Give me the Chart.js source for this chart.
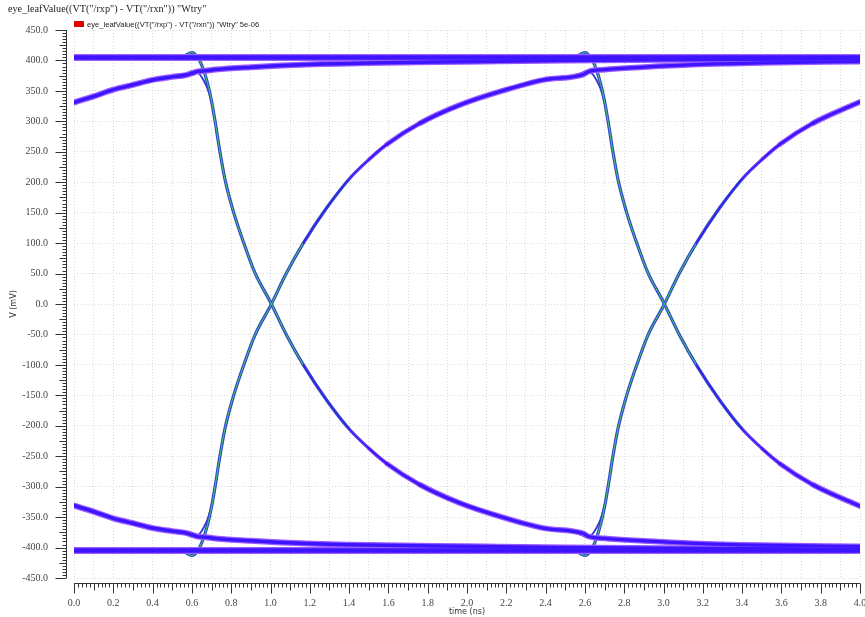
<!DOCTYPE html>
<html><head><meta charset="utf-8">
<script src="https://cdn.jsdelivr.net/npm/chart.js@4.4.0/dist/chart.umd.min.js"></script>
<style>html,body{margin:0;padding:0;background:#fff}canvas{display:block}</style>
</head><body>
<canvas id="c" width="865" height="617"></canvas>
<script>
const titleText = 'eye_leafValue((VT("/rxp") - VT("/rxn")) "Wtry"';
const legendText = 'eye_leafValue((VT("/rxp") - VT("/rxn")) "Wtry" 5e-06';
const xMin = 0, xMax = 4, xStep = 0.1;
const yMin = -450, yMax = 450, yStep = 50;

// steady levels
const hiFlatT = [0, 4];
const hiFlatV = [405, 405];
const loFlatT = [0, 4];
const loFlatV = [-405, -405];

// settling tails that start before the window
const hiTailT = [0, 0.1, 0.2, 0.3, 0.4, 0.5, 0.57, 0.6, 0.63, 0.67, 0.72, 0.9, 1.15, 1.5, 2.0, 2.5, 3.0, 3.5, 4.0];
const hiTailV = [331, 341, 352, 360, 368, 373, 376, 379, 382, 383, 385, 389, 393, 396, 398, 400, 401, 402, 403];
const loTailT = [0, 0.1, 0.2, 0.3, 0.4, 0.5, 0.57, 0.6, 0.63, 0.67, 0.72, 0.9, 1.15, 1.5, 2.0, 2.5, 3.0, 3.5, 4.0];
const loTailV = [-331, -341, -352, -360, -368, -373, -376, -379, -382, -383, -385, -389, -393, -396, -398, -400, -401, -402, -403];

// first transition (0.6 ns)
const fall1EdgeT = [0.50, 0.56, 0.60, 0.63, 0.655, 0.68, 0.70, 0.718, 0.74, 0.768, 0.81, 0.862, 0.921, 1.0, 1.08, 1.167, 1.286, 1.405, 1.50, 1.591];
const fall1EdgeV = [405, 407, 413, 405, 388, 362, 333, 300, 255, 205, 153, 102, 51, 3, -50, -100, -158, -207, -237, -262];
const fall1TailT = [1.167, 1.286, 1.405, 1.50, 1.591, 1.761, 1.964, 2.168, 2.388, 2.592, 2.62, 2.7, 2.9, 3.15, 3.5, 4.0];
const fall1TailV = [-100, -158, -207, -237, -262, -297, -327, -349, -368, -377, -382, -385, -389, -393, -396, -398];
const fall1bT = [0.50, 0.58, 0.61, 0.64, 0.66, 0.68, 0.70, 0.72];
const fall1bV = [373, 379, 383, 377, 367, 353, 331, 298];

const rise1EdgeT = [0.50, 0.56, 0.60, 0.63, 0.655, 0.68, 0.70, 0.718, 0.74, 0.768, 0.81, 0.862, 0.921, 1.0, 1.08, 1.167, 1.286, 1.405, 1.50, 1.591];
const rise1EdgeV = [-405, -407, -413, -405, -388, -362, -333, -300, -255, -205, -153, -102, -51, -3, 50, 100, 158, 207, 237, 262];
const rise1TailT = [1.167, 1.286, 1.405, 1.50, 1.591, 1.761, 1.964, 2.168, 2.388, 2.592, 2.62, 2.7, 2.9, 3.15, 3.5, 4.0];
const rise1TailV = [100, 158, 207, 237, 262, 297, 327, 349, 368, 377, 382, 385, 389, 393, 396, 398];
const rise1bT = [0.50, 0.58, 0.61, 0.64, 0.66, 0.68, 0.70, 0.72];
const rise1bV = [-373, -379, -383, -377, -367, -353, -331, -298];

// second transition (2.6 ns)
const fall2EdgeT = [2.50, 2.56, 2.60, 2.63, 2.655, 2.68, 2.70, 2.718, 2.74, 2.768, 2.81, 2.862, 2.921, 3.0, 3.08, 3.167, 3.286, 3.405, 3.50, 3.591];
const fall2EdgeV = [405, 407, 413, 405, 388, 362, 333, 300, 255, 205, 153, 102, 51, 3, -50, -100, -158, -207, -237, -262];
const fall2TailT = [3.167, 3.286, 3.405, 3.50, 3.591, 3.761, 3.964, 4.0];
const fall2TailV = [-100, -158, -207, -237, -262, -297, -327, -332];
const fall2bT = [2.50, 2.58, 2.61, 2.64, 2.66, 2.68, 2.70, 2.72];
const fall2bV = [373, 379, 383, 377, 367, 353, 331, 298];

const rise2EdgeT = [2.50, 2.56, 2.60, 2.63, 2.655, 2.68, 2.70, 2.718, 2.74, 2.768, 2.81, 2.862, 2.921, 3.0, 3.08, 3.167, 3.286, 3.405, 3.50, 3.591];
const rise2EdgeV = [-405, -407, -413, -405, -388, -362, -333, -300, -255, -205, -153, -102, -51, -3, 50, 100, 158, 207, 237, 262];
const rise2TailT = [3.167, 3.286, 3.405, 3.50, 3.591, 3.761, 3.964, 4.0];
const rise2TailV = [100, 158, 207, 237, 262, 297, 327, 332];
const rise2bT = [2.50, 2.58, 2.61, 2.64, 2.66, 2.68, 2.70, 2.72];
const rise2bV = [-373, -379, -383, -377, -367, -353, -331, -298];

const pts = (ts, vs) => ts.map((t, i) => ({x: t, y: vs[i]}));

const bandColorOuter = '#9a5cff';
const bandColorCore = '#3d14ff';
const edgeColorOuter = '#3048c8';
const edgeColorInner = '#44c870';

const datasets = [];
function rampWidth(start, w, minFrac) {
  return (c) => {
    const x0 = c.p0.parsed.x;
    const f = Math.max(minFrac, Math.min(1, (x0 - start) / 0.5));
    return w * f;
  };
}
function band(ts, vs, w, ramp) {
  const common = {showLine: true, pointRadius: 0, cubicInterpolationMode: 'monotone', borderCapStyle: 'round'};
  const o = Object.assign({}, common, {data: pts(ts, vs), borderColor: bandColorOuter, borderWidth: w + 2.5, order: 2});
  const c = Object.assign({}, common, {data: pts(ts, vs), borderColor: bandColorCore, borderWidth: w, order: 1});
  if (ramp) {
    o.segment = {borderWidth: rampWidth(ts[0], w + 2.5, 0.3), borderColor: (s) => s.p0.parsed.x - ts[0] < 0.15 ? edgeColorOuter : bandColorOuter};
    c.segment = {borderWidth: rampWidth(ts[0], w, 0.35)};
  }
  datasets.push(o, c);
}
function edge(ts, vs) {
  datasets.push({data: pts(ts, vs), showLine: true, borderColor: edgeColorOuter, borderWidth: 3.2, pointRadius: 0, cubicInterpolationMode: 'monotone', order: 4});
  datasets.push({data: pts(ts, vs), showLine: true, borderColor: edgeColorInner, borderWidth: 1.0, pointRadius: 0, cubicInterpolationMode: 'monotone', order: 3});
}
function thin(ts, vs) {
  datasets.push({data: pts(ts, vs), showLine: true, borderColor: '#3a30d8', borderWidth: 1.8, pointRadius: 0, cubicInterpolationMode: 'monotone', order: 4});
}

band(hiFlatT, hiFlatV, 4.5, false);
band(loFlatT, loFlatV, 4.5, false);
band(hiTailT, hiTailV, 3.5, false);
band(loTailT, loTailV, 3.5, false);
band(fall1TailT, fall1TailV, 3.2, true);
band(rise1TailT, rise1TailV, 3.2, true);
band(fall2TailT, fall2TailV, 3.2, true);
band(rise2TailT, rise2TailV, 3.2, true);
edge(fall1EdgeT, fall1EdgeV);
edge(rise1EdgeT, rise1EdgeV);
edge(fall2EdgeT, fall2EdgeV);
edge(rise2EdgeT, rise2EdgeV);
thin(fall1bT, fall1bV);
thin(rise1bT, rise1bV);
thin(fall2bT, fall2bV);
thin(rise2bT, rise2bV);

const deco = {
  id: 'deco',
  afterDraw(chart) {
    const {ctx, scales: {x, y}} = chart;
    ctx.save();
    ctx.fillStyle = '#222';
    ctx.font = '10.2px "Liberation Serif"';
    ctx.textBaseline = 'alphabetic';
    ctx.fillText(titleText, 8, 12);
    ctx.fillStyle = '#e00000';
    ctx.fillRect(74, 21, 10, 6);
    ctx.fillStyle = '#222';
    ctx.font = '7.6px "Liberation Sans"';
    ctx.fillText(legendText, 87, 27);
    ctx.strokeStyle = '#333';
    ctx.lineWidth = 1;
    ctx.beginPath();
    const ax = 66.5;
    ctx.moveTo(ax, y.getPixelForValue(yMax));
    ctx.lineTo(ax, y.getPixelForValue(yMin));
    for (let i = 0; i <= 180; i++) {
      const v = yMin + i * 5;
      const p = Math.round(y.getPixelForValue(v)) + 0.5;
      const len = i % 10 === 0 ? 11 : (i % 5 === 0 ? 7 : 4);
      ctx.moveTo(ax, p); ctx.lineTo(ax - len, p);
    }
    const ay = 583.5;
    ctx.moveTo(x.getPixelForValue(xMin), ay);
    ctx.lineTo(x.getPixelForValue(xMax), ay);
    for (let i = 0; i <= 200; i++) {
      const v = xMin + i * 0.02;
      const p = Math.round(x.getPixelForValue(v)) + 0.5;
      const len = i % 10 === 0 ? 10 : (i % 5 === 0 ? 7 : 4);
      ctx.moveTo(p, ay); ctx.lineTo(p, ay + len);
    }
    ctx.stroke();
    ctx.restore();
  }
};

new Chart(document.getElementById('c'), {
  type: 'scatter',
  data: {datasets},
  options: {
    responsive: false,
    animation: false,
    devicePixelRatio: 1,
    layout: {padding: {left: 0, right: 5, top: 30, bottom: 0}},
    plugins: {legend: {display: false}, tooltip: {enabled: false}},
    scales: {
      x: {
        type: 'linear', min: xMin, max: xMax, position: 'bottom',
        ticks: {
          stepSize: xStep, autoSkip: false, maxRotation: 0, padding: 19,
          font: {family: 'Liberation Serif', size: 10}, color: '#444',
          callback: (v) => Math.round(v * 10) % 2 === 0 ? v.toFixed(1) : ''
        },
        grid: {color: '#dadada', drawTicks: false, lineWidth: 1},
        border: {display: false, dash: [1, 2]},
        title: {display: true, text: 'time (ns)', font: {family: 'DejaVu Sans', size: 8}, color: '#333', padding: {top: 0, bottom: 0.5}},
        afterFit(s) { s.height = 39; s.paddingLeft = 0; s.paddingRight = 0; }
      },
      y: {
        type: 'linear', min: yMin, max: yMax,
        ticks: {
          stepSize: yStep, padding: 26,
          font: {family: 'Liberation Serif', size: 10}, color: '#444',
          callback: (v) => v.toFixed(1)
        },
        grid: {color: '#dadada', drawTicks: false, lineWidth: 1},
        border: {display: false, dash: [1, 2]},
        title: {display: true, text: 'V (mV)', font: {family: 'DejaVu Sans', size: 8}, color: '#333', padding: {top: 9, bottom: 0}},
        afterFit(s) { s.width = 74; s.paddingTop = 0; s.paddingBottom = 0; }
      }
    }
  },
  plugins: [deco]
});
</script>
</body></html>
